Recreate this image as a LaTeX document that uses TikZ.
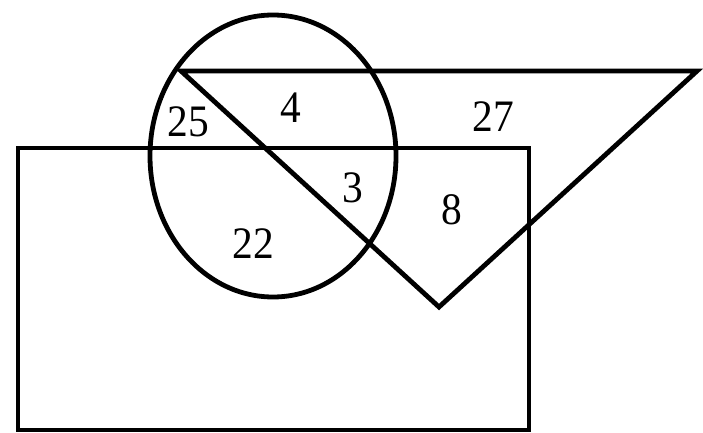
\documentclass[tikz,border=0pt]{standalone}
\usepackage{fontspec}
\setmainfont{Liberation Serif}
\begin{document}
\begin{tikzpicture}[x=1pt,y=-1pt,
  shape line/.style={line width=4.8pt, line join=miter},
  num/.style={font=\fontsize{45}{45}\selectfont, inner sep=0pt, xscale=0.92}]
\useasboundingbox (0,0) rectangle (703,433);
% rectangle
\coordinate (r1) at (18,148);
\coordinate (r2) at (529,430);
\draw[shape line] (r1) rectangle (r2);
% ellipse
\coordinate (c) at (273,156);
\draw[shape line] (c) ellipse [x radius=123, y radius=141];
% triangle
\coordinate (t1) at (181,71);
\coordinate (t2) at (697,71);
\coordinate (t3) at (439,307);
\draw[shape line] (t1) -- (t2) -- (t3) -- cycle;
% labels
\node[num] (n25) at (188,122) {25};
\node[num] (n4) at (291,108) {4};
\node[num] (n27) at (493,117) {27};
\node[num] (n3) at (353,188) {3};
\node[num] (n8) at (452,210) {8};
\node[num] (n22) at (253,244) {22};
\end{tikzpicture}
\end{document}
